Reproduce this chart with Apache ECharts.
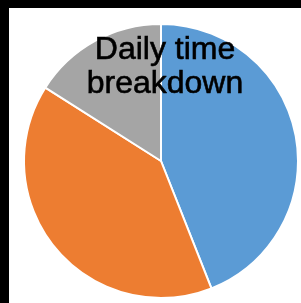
<!DOCTYPE html>
<html>
<head>
<meta charset="utf-8">
<script src="https://cdn.jsdelivr.net/npm/echarts@6/dist/echarts.min.js"></script>
<style>
  html, body { margin: 0; padding: 0; background: #000; }
  #main { position: absolute; left: 9px; top: 8px; width: 292px; height: 295px; background: #fff; }
</style>
</head>
<body>
<div id="main"></div>
<script>
// 每日时间分配
var categories = ['Work', 'Sleep', 'Other'];
var values = [44, 40, 16];
var colors = ['#5b9bd5', '#ed7d31', '#a5a5a5'];

var chart = echarts.init(document.getElementById('main'));

var pieData = [];
for (var i = 0; i < categories.length; i++) {
    pieData.push({ name: categories[i], value: values[i] });
}

var option = {
    color: colors,
    title: {
        text: 'Daily time\nbreakdown',
        left: 151,
        top: 20,
        textAlign: 'center',
        textStyle: {
            fontFamily: 'Liberation Sans',
            fontSize: 32,
            fontWeight: 'normal',
            color: '#000',
            lineHeight: 34,
            textBorderColor: '#000',
            textBorderWidth: 0.6
        }
    },
    series: [{
        type: 'pie',
        center: [152, 153],
        radius: 137,
        startAngle: 90,
        clockwise: true,
        label: { show: false },
        labelLine: { show: false },
        itemStyle: { borderColor: '#fff', borderWidth: 2 },
        data: pieData
    }]
};

chart.setOption(option);
</script>
</body>
</html>
